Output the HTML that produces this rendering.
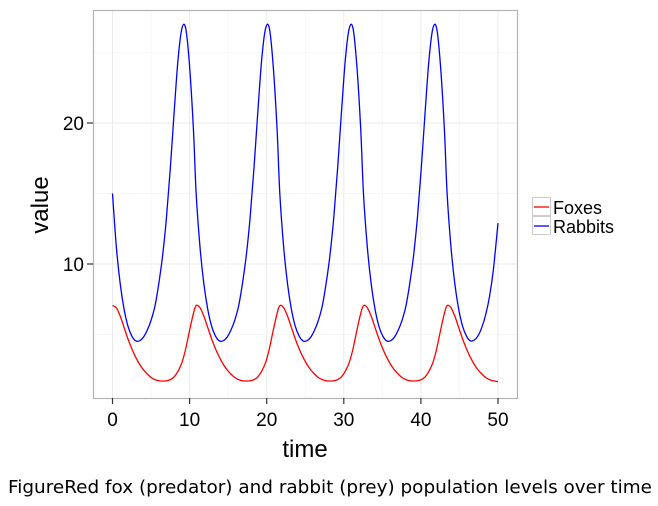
<!DOCTYPE html>
<html><head><meta charset="utf-8"><style>
body{margin:0;background:#fff;width:658px;height:501px;overflow:hidden;font-family:"Liberation Sans",sans-serif}
</style></head><body>
<svg width="658" height="501">
<g id="grid"></g>
<g id="series"></g>
<rect x="93.5" y="10.5" width="424" height="388" fill="none" stroke="#b3b3b3" stroke-width="1.2"/>
<g id="axes"></g>
<text x="305" y="457" font-size="24" text-anchor="middle">time</text>
<text transform="translate(48,205) rotate(-90)" font-size="24" text-anchor="middle">value</text>
<g>
<rect x="532.5" y="197.5" width="18" height="18" fill="none" stroke="#ccc"/>
<line x1="534" y1="207" x2="549" y2="207" stroke="red" stroke-width="1.3"/>
<text x="553" y="214" font-size="18">Foxes</text>
<rect x="532.5" y="216.5" width="18" height="18" fill="none" stroke="#ccc"/>
<line x1="534" y1="226" x2="549" y2="226" stroke="blue" stroke-width="1.3"/>
<text x="553" y="233" font-size="18">Rabbits</text>
</g>
<text x="8" y="493" font-size="18" textLength="644" lengthAdjust="spacingAndGlyphs" font-family="DejaVu Sans, sans-serif">FigureRed fox (predator) and rabbit (prey) population levels over time</text>
</svg>
<script>
const times=[0,0.5,1,1.5,2,2.5,3,3.5,4,4.5,5,5.5,6,6.5,7,7.5,8,8.5,9,9.5,10,10.5,
10.85,11.35,11.85,12.35,12.85,13.35,13.85,14.35,14.85,15.35,15.85,16.35,16.85,17.35,17.85,18.35,18.85,19.35,19.85,20.35,20.85,21.35,
21.7,22.2,22.7,23.2,23.7,24.2,24.7,25.2,25.7,26.2,26.7,27.2,27.7,28.2,28.7,29.2,29.7,30.2,30.7,31.2,31.7,32.2,
32.55,33.05,33.55,34.05,34.55,35.05,35.55,36.05,36.55,37.05,37.55,38.05,38.55,39.05,39.55,40.05,40.55,41.05,41.55,42.05,42.55,43.05,
43.4,43.9,44.4,44.9,45.4,45.9,46.4,46.9,47.4,47.9,48.4,48.9,49.4,50];
const rabbits=[15,11.2,8.6,6.8,5.6,4.9,4.55,4.55,4.8,5.3,6.0,7.0,8.6,10.6,13.3,16.8,20.8,24.5,26.7,26.7,24,19.5,
15,11.2,8.6,6.8,5.6,4.9,4.55,4.55,4.8,5.3,6.0,7.0,8.6,10.6,13.3,16.8,20.8,24.5,26.7,26.7,24,19.5,
15,11.2,8.6,6.8,5.6,4.9,4.55,4.55,4.8,5.3,6.0,7.0,8.6,10.6,13.3,16.8,20.8,24.5,26.7,26.7,24,19.5,
15,11.2,8.6,6.8,5.6,4.9,4.55,4.55,4.8,5.3,6.0,7.0,8.6,10.6,13.3,16.8,20.8,24.5,26.7,26.7,24,19.5,
15,11.2,8.6,6.8,5.6,4.9,4.55,4.6,4.9,5.5,6.4,7.7,9.6,12.9];
const foxes=[7.05,6.9,6.3,5.5,4.7,4.0,3.4,2.9,2.5,2.2,1.95,1.8,1.72,1.7,1.72,1.8,2.0,2.4,3.0,4.0,5.3,6.5,
7.05,6.9,6.3,5.5,4.7,4.0,3.4,2.9,2.5,2.2,1.95,1.8,1.72,1.7,1.72,1.8,2.0,2.4,3.0,4.0,5.3,6.5,
7.05,6.9,6.3,5.5,4.7,4.0,3.4,2.9,2.5,2.2,1.95,1.8,1.72,1.7,1.72,1.8,2.0,2.4,3.0,4.0,5.3,6.5,
7.05,6.9,6.3,5.5,4.7,4.0,3.4,2.9,2.5,2.2,1.95,1.8,1.72,1.7,1.72,1.8,2.0,2.4,3.0,4.0,5.3,6.5,
7.05,6.9,6.3,5.5,4.7,4.0,3.4,2.9,2.5,2.2,1.95,1.8,1.72,1.65];
const xTicks=[0,10,20,30,40,50];
const yTicks=[10,20];
const xMinor=[5,15,25,35,45];
const yMinor=[5,15,25];
const NS='http://www.w3.org/2000/svg';
const X=t=>112.5+t*7.71;
const Y=v=>264-(v-10)*14.1;
function mk(tag,attrs,parent){const e=document.createElementNS(NS,tag);for(const k in attrs)e.setAttribute(k,attrs[k]);parent.appendChild(e);return e;}
const grid=document.getElementById('grid'),axes=document.getElementById('axes'),ser=document.getElementById('series');
xMinor.forEach(t=>{const l=mk('line',{x1:X(t),x2:X(t),y1:11,y2:398,stroke:'#f5f5f5','stroke-width':0.8},grid);

});
yMinor.forEach(v=>{const l=mk('line',{x1:94,x2:517,y1:Y(v),y2:Y(v),stroke:'#f5f5f5','stroke-width':0.8},grid);

});
xTicks.forEach(t=>{const l=mk('line',{x1:X(t),x2:X(t),y1:11,y2:398,stroke:'#ebebeb','stroke-width':1},grid);


const tk=mk('line',{x1:X(t),x2:X(t),y1:398,y2:404,stroke:'#333','stroke-width':1.2},axes);


const tx=mk('text',{x:X(t),y:426,'font-size':19,'text-anchor':'middle'},axes);tx.textContent=t;

});
yTicks.forEach(v=>{const l=mk('line',{x1:94,x2:517,y1:Y(v),y2:Y(v),stroke:'#ebebeb','stroke-width':1},grid);


const tk=mk('line',{x1:87,x2:93,y1:Y(v),y2:Y(v),stroke:'#333','stroke-width':1.2},axes);


const tx=mk('text',{x:84,y:Y(v)+7,'font-size':19,'text-anchor':'end'},axes);tx.textContent=v;

});
function path(vals){const p=times.map((t,i)=>[X(t),Y(vals[i])]);let d='M'+p[0][0]+','+p[0][1];
for(let i=0;i<p.length-1;i++){const p0=p[Math.max(i-1,0)],p1=p[i],p2=p[i+1],p3=p[Math.min(i+2,p.length-1)];
d+=' C'+(p1[0]+(p2[0]-p0[0])/6)+','+(p1[1]+(p2[1]-p0[1])/6)+' '+(p2[0]-(p3[0]-p1[0])/6)+','+(p2[1]-(p3[1]-p1[1])/6)+' '+p2[0]+','+p2[1];}return d;}
const f=mk('path',{d:path(foxes),fill:'none',stroke:'red','stroke-width':1.3},ser);


const r=mk('path',{d:path(rabbits),fill:'none',stroke:'blue','stroke-width':1.3},ser);


</script>
</body></html>
